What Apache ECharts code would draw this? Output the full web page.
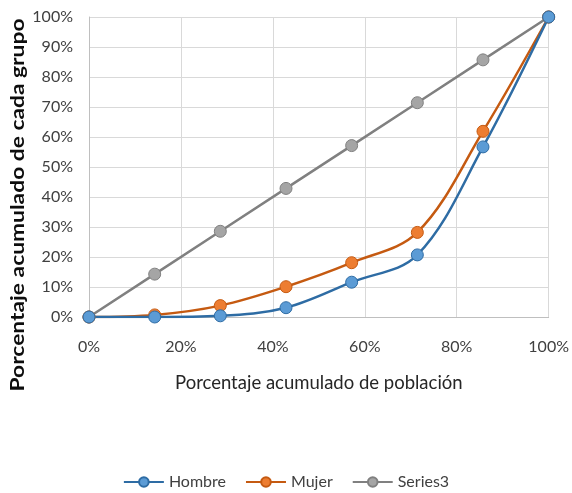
<!DOCTYPE html>
<html>
<head>
<meta charset="utf-8">
<script src="https://cdn.jsdelivr.net/npm/echarts@6/dist/echarts.min.js"></script>
<style>
  html, body { margin: 0; padding: 0; background: #fff; }
  #chart { width: 572px; height: 493px; }
</style>
</head>
<body>
<div id="chart"></div>
<script>
// Cumulative share of population (x) for each group step
const poblacion = [0, 14.29, 28.57, 42.86, 57.14, 71.43, 85.71, 100];
// Cumulative share held by each group (y)
const hombre  = [0, 0, 0.4, 3.1, 11.6, 20.7, 56.7, 100];
const mujer   = [0, 0.7, 3.8, 10.1, 18.1, 28.2, 61.9, 100];
const series3 = [0, 14.29, 28.57, 42.86, 57.14, 71.43, 85.71, 100];
const xTicks = [0, 20, 40, 60, 80, 100];

const FONT = 'Lato, "Noto Sans", sans-serif';
const pairs = ys => poblacion.map((x, i) => [x, ys[i]]);

function lineSeries(name, ys, lineColor, markColor, smooth) {
  return {
    name, type: 'line', data: pairs(ys), smooth,
    symbol: 'circle', symbolSize: 12,
    lineStyle: { color: lineColor, width: 2.5 },
    itemStyle: { color: markColor, borderColor: lineColor, borderWidth: 1 },
    emphasis: { disabled: true }
  };
}

const chart = echarts.init(document.getElementById('chart'), null, { renderer: 'canvas' });
chart.setOption({
  animation: false,
  grid: { left: 89, right: 23, top: 17, bottom: 176, containLabel: false },
  xAxis: {
    type: 'value', min: 0, max: 100, interval: 20,
    name: 'Porcentaje acumulado de población',
    nameLocation: 'middle', nameGap: 57,
    nameTextStyle: { fontFamily: FONT, fontSize: 18.5, color: '#262626' },
    axisLine: { show: true, lineStyle: { color: '#bfbfbf', width: 1 } },
    axisTick: { show: false },
    axisLabel: {
      formatter: v => xTicks.includes(v) ? v + '%' : '',
      fontFamily: FONT, fontSize: 16, color: '#404040', margin: 22
    },
    splitLine: { show: true, lineStyle: { color: '#d9d9d9', width: 1 } }
  },
  yAxis: {
    type: 'value', min: 0, max: 100, interval: 10,
    axisLine: { show: true, lineStyle: { color: '#bfbfbf', width: 1 } },
    axisTick: { show: false },
    axisLabel: {
      formatter: v => v + '%',
      fontFamily: FONT, fontSize: 16, color: '#404040', margin: 16
    },
    splitLine: { show: true, lineStyle: { color: '#d9d9d9', width: 1 } }
  },
  // Vertical axis title, stretched along its length
  graphic: [{
    type: 'text', x: 18, y: 205, rotation: Math.PI / 2, scaleX: 1.2,
    style: {
      text: 'Porcentaje acumulado de cada grupo',
      fontFamily: FONT, fontSize: 19, fontWeight: 'bold', fill: '#0d0d0d',
      align: 'center', verticalAlign: 'middle'
    }
  }],
  legend: {
    bottom: -2, left: 'center',
    itemWidth: 40, itemHeight: 12, itemGap: 19,
    textStyle: { fontFamily: FONT, fontSize: 16, color: '#404040' },
    data: ['Hombre', 'Mujer', 'Series3']
  },
  series: [
    lineSeries('Series3', series3, '#808080', '#a5a5a5', false),
    lineSeries('Mujer', mujer, '#c55a11', '#ed7d31', 0.35),
    lineSeries('Hombre', hombre, '#2e6ca4', '#5b9bd5', 0.35)
  ]
});
</script>
</body>
</html>
